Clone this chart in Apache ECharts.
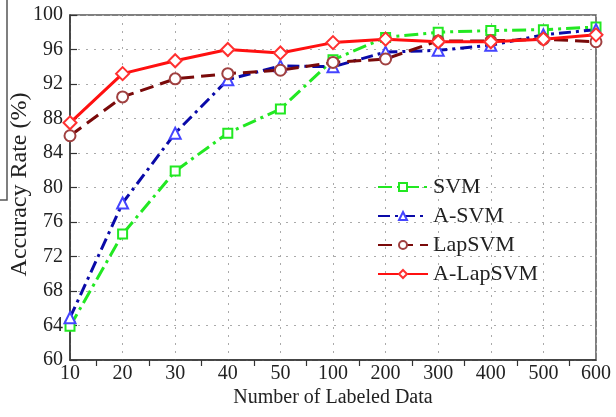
<!doctype html>
<html><head><meta charset="utf-8" />
<style>
  html,body,#app{margin:0;padding:0;width:616px;height:417px;background:#ffffff}
</style>
<script src="https://cdn.jsdelivr.net/npm/echarts@6/dist/echarts.min.js"></script>
</head><body><div id="app"></div>
<script>
// x categories (labeled data counts) and accuracy (%) per method
const categories = ['10','20','30','40','50','100','200','300','400','500','600'];
const svm     = [63.9, 74.6, 81.9, 86.3, 89.1, 94.8, 97.4, 98.0, 98.2, 98.3, 98.6];
const aSvm    = [64.9, 78.2, 86.3, 92.5, 94.1, 94.0, 95.7, 95.9, 96.5, 97.7, 98.3];
const lapSvm  = [86.0, 90.5, 92.6, 93.2, 93.6, 94.5, 94.9, 97.0, 97.0, 97.2, 96.9];
const aLapSvm = [87.5, 93.2, 94.7, 96.0, 95.6, 96.8, 97.2, 96.9, 96.9, 97.2, 97.7];

const serif = '"Liberation Serif", "DejaVu Serif", serif';
const pts = arr => arr.map((v, i) => [i, v]);

const chart = echarts.init(document.getElementById('app'), null, { renderer: 'canvas' });

function mk(name, data, lineColor, symColor, symbol, size, dash){
  return {
    name: name, type: 'line', data: pts(data),
    symbol: symbol, symbolSize: size, showSymbol: true,
    lineStyle: { color: lineColor, width: 3, type: dash },
    itemStyle: { color: symColor, borderWidth: 1.2 },
    emphasis: { disabled: true }
  };
}

const option = {
  backgroundColor: '#ffffff',
  animation: false,
  textStyle: { fontFamily: serif },
  grid: { left: 70, right: 20, top: 15, bottom: 57, outerBoundsMode: 'none', containLabel: false,
    show: true, borderColor: '#555', borderWidth: 1.5 },
  legend: {
    orient: 'vertical', left: 372, top: 171, itemWidth: 50, itemHeight: 10, itemGap: 7,
    data: ['SVM','A-SVM','LapSVM','A-LapSVM'],
    textStyle: { fontFamily: serif, fontSize: 22, color: '#222' }
  },
  xAxis: {
    type: 'value', min: 0, max: 10, interval: 1,
    name: 'Number of Labeled Data', nameLocation: 'middle', nameGap: 28, nameMoveOverlap: false,
    nameTextStyle: { fontFamily: serif, fontSize: 20, color: '#222' },
    axisLine: { lineStyle: { color: '#333', width: 1.5 } },
    axisTick: { show: false },
    minorTick: { show: true, splitNumber: 2, length: 6, lineStyle: { color: '#333', width: 1.2 } },
    minorSplitLine: { show: false },
    axisLabel: { fontFamily: serif, fontSize: 20, color: '#222', margin: 4,
      formatter: v => categories[v] || '' },
    splitLine: { show: true, lineStyle: { color: '#aaa', type: [2, 6], width: 1 } }
  },
  yAxis: {
    type: 'value', min: 60, max: 100, interval: 4,
    name: 'Accuracy Rate (%)', nameLocation: 'middle', nameGap: 38, nameMoveOverlap: false,
    nameTextStyle: { fontFamily: serif, fontSize: 24, color: '#222', padding: [0, 0, 0, 6] },
    axisLine: { show: true, lineStyle: { color: '#333', width: 1.5 } },
    axisTick: { show: true, inside: true, length: 7, lineStyle: { color: '#333', width: 1.2 } },
    axisLabel: { fontFamily: serif, fontSize: 20, color: '#222', margin: 7 },
    splitLine: { show: true, lineStyle: { color: '#aaa', type: [2, 6], width: 1 } }
  },
  graphic: [
    { type: 'polyline', shape: { points: [[0, 200], [7, 200], [7, 0]] }, style: { stroke: '#555', lineWidth: 1.5, fill: null } }
  ],
  series: [
    mk('SVM', svm, '#22e822', '#22e822', 'emptyRect', 9, [14, 5, 3, 5]),
    mk('A-SVM', aSvm, '#0a0aa8', '#4444ff', 'emptyTriangle', 11, [12, 5, 3, 5]),
    mk('LapSVM', lapSvm, '#7a0a0a', '#a04040', 'emptyCircle', 11, [14, 7]),
    mk('A-LapSVM', aLapSvm, '#ff1010', '#ff3030', 'emptyDiamond', 13, 'solid')
  ]
};
chart.setOption(option);
</script></body></html>
